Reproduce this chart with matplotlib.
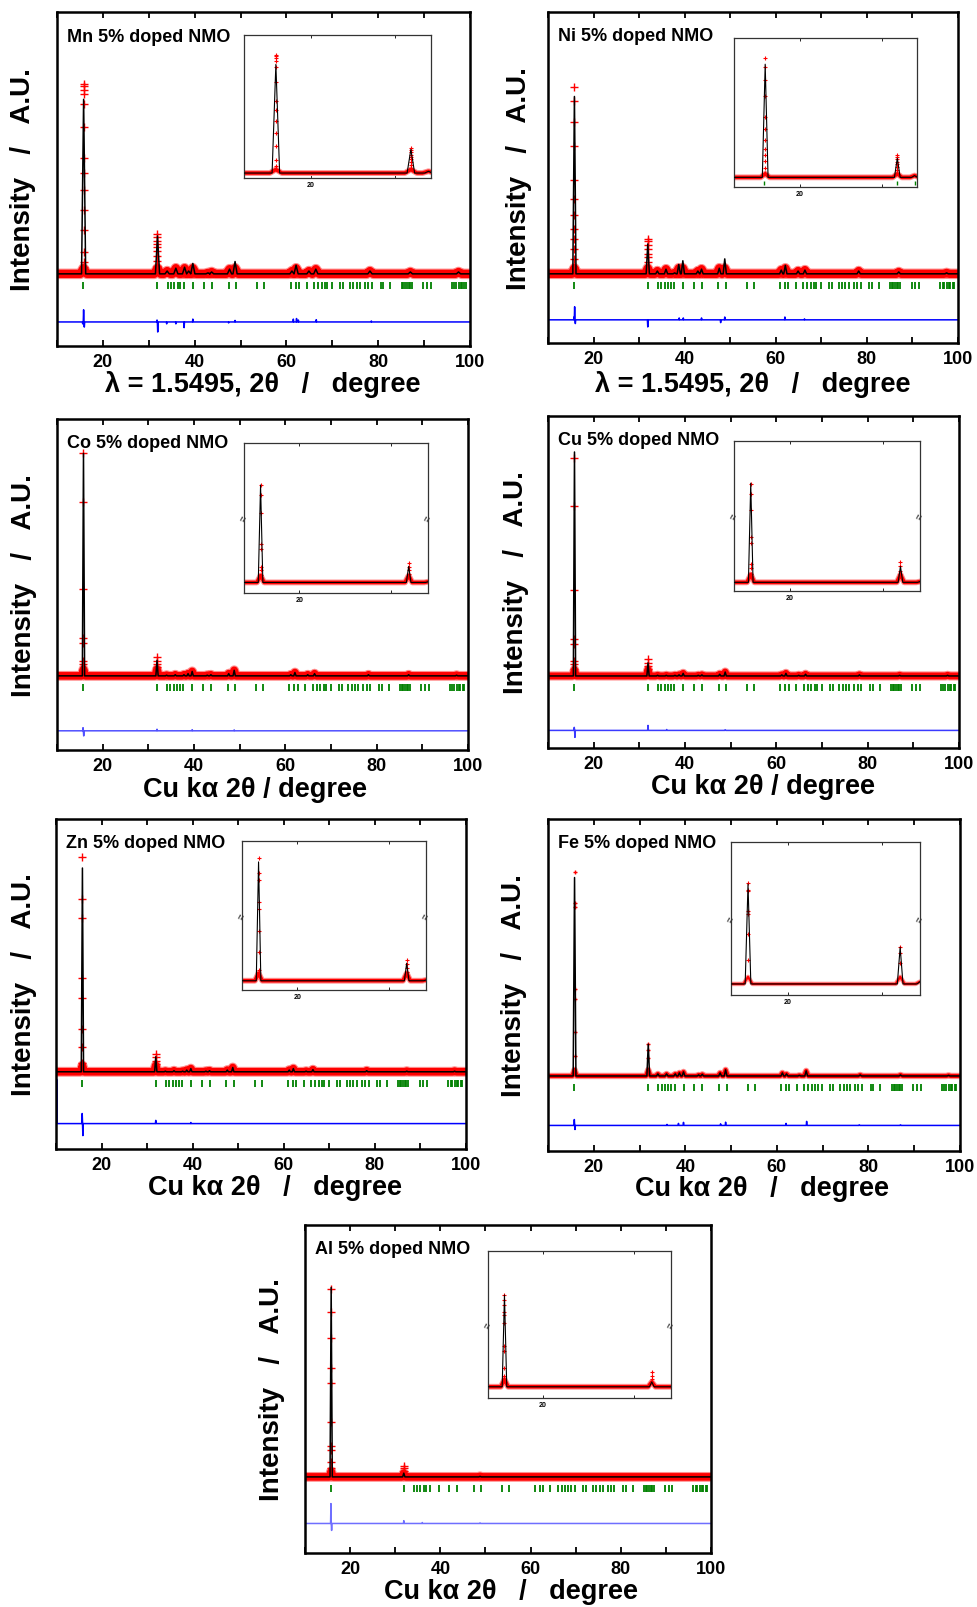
import numpy as np
import matplotlib
matplotlib.use('Agg')
import matplotlib.pyplot as plt
from matplotlib.ticker import MultipleLocator, FixedLocator

plt.rcParams['font.family'] = ['Liberation Sans', 'DejaVu Sans']
plt.rcParams['font.weight'] = 'bold'

W, H = 977, 1608

# 2theta of the fitted reflections (same lattice for every dopant)
peak_x = [15.8, 31.9, 34.0, 35.9, 37.8, 38.7, 39.6, 42.9, 43.7, 47.6, 48.8,
          61.2, 62.1, 64.9, 66.4, 78.2, 87.0, 97.5]

# allowed Bragg positions (green ticks)
bragg_x = [15.7, 31.9, 34.1, 34.8, 35.6, 36.3, 36.9, 37.7, 39.6, 42.0, 43.7,
           47.4, 49.0, 53.6, 55.2, 60.9, 62.0, 62.7, 64.4, 66.0, 66.9, 67.7,
           68.4, 68.9, 69.9, 71.7, 72.3, 73.8, 74.6, 75.3, 76.0, 77.1, 77.8,
           78.6, 80.5, 81.1, 82.6, 85.1, 85.5, 85.8, 86.2, 86.6, 86.9, 87.3,
           89.8, 90.6, 91.4, 96.1, 96.6, 96.9, 97.5, 98.0, 98.3, 98.8, 99.2]

# calculated peak heights (strongest observed point = 100)
mn_h = [92, 20, 1.5, 3, 3.5, 1.5, 5.5, 0.5, 1, 2.5, 6.5, 1.5, 4.5, 1.5, 2.5, 1.5, 1, 1]
ni_h = [95, 16, 1.5, 2.5, 0.5, 5, 7, 1.5, 2.5, 3, 8, 2, 4.5, 1.5, 2, 1.5, 1, 0.5]
co_h = [100, 7, 0.3, 0.5, 0.5, 1, 2, 0.3, 0.5, 1, 2.5, 0.5, 1.5, 0.5, 1, 0.5, 0.5, 0.3]
cu_h = [103, 6, 0.3, 0.3, 0.3, 0.5, 1.2, 0.3, 0.5, 0.8, 1.8, 0.5, 1.2, 0.3, 0.8, 0.5, 0.3, 0.3]
zn_h = [95, 7, 0.3, 0.5, 0.3, 0.8, 1.5, 0.3, 0.5, 0.8, 2, 0.8, 1.5, 0.3, 1, 0.5, 0.3, 0.3]
fe_h = [97.5, 15.6, 1, 1, 1, 1.5, 2, 0.5, 0.8, 1.5, 3, 1.5, 1, 0.3, 2.5, 0.5, 0.5, 0.3]
al_h = [101, 2, 0, 0, 0, 0, 0, 0, 0, 0, 0.3, 0, 0, 0, 0, 0, 0, 0]

# observed points on the two strongest reflections
mn_obs1 = [100, 98.8, 97, 94.8, 89.6, 77.3, 61.1, 53.2, 44.4, 33.8, 23.1, 11.4, 6.2, 3.5]
mn_obs2 = [21, 19.3, 17.5, 15.7, 13.9, 12.2, 9.5, 6.9, 4.2]
ni_obs1 = [100, 92.4, 81.4, 68.3, 50.4, 40.2, 31.7, 24.1, 18.8, 13.5, 8.2, 3.5]
ni_obs2 = [18.8, 17.4, 15.2, 13.1, 10.8, 9.0, 6.3]
co_obs1 = [100, 78, 39, 16.9, 14.6, 6.9, 5.3, 3.1]
co_obs2 = [8.3, 6.8, 5.3, 3.8]
cu_obs1 = [100, 78, 39.4, 17.2, 14.9, 6.9, 5.3, 3.3]
cu_obs2 = [7.6, 6.1, 4.5, 3.0]
zn_obs1 = [100, 80.5, 71.5, 43.5, 34.2, 19.8, 11.4, 4.3]
zn_obs2 = [8.2, 6.7, 5.1, 3.6]
fe_obs1 = [100, 85, 82.8, 42.6, 37.8, 21.4, 10]
fe_obs2 = [15.6, 13, 9]
al_obs1 = [100, 88.1, 74.3, 57.9, 50.3, 29.0, 16.6, 14.5, 7.7, 4.5]
al_obs2 = [5.9, 4.5, 3.0]

# difference curve (obs - calc) excursions
mn_diff_x = [15.6, 15.8, 15.95, 31.8, 31.95, 33.9, 35.9, 37.7, 39.6, 47.4, 48.8, 61.5, 62.2, 62.6, 66.5, 78.5]
mn_diff_y = [-1, 6.4, -2.7, 1, -5.3, -1, -1, -3, 1.5, -0.5, 0.8, 1.5, 1.8, 1, 1.2, 0.5]
ni_diff_x = [15.7, 15.85, 16.0, 31.9, 38.8, 39.7, 43.7, 47.9, 48.8, 62.0, 66.3]
ni_diff_y = [1.5, 7, -2, -3.8, 1, 1, 1, -1.5, 1.5, 1.5, 0.5]
co_diff_x = [15.7, 15.85, 31.9, 39.6, 48.8]
co_diff_y = [1.4, -2.3, 0.7, 0.5, 0.4]
cu_diff_x = [15.75, 15.9, 31.9, 36.0, 48.8]
cu_diff_y = [1.4, -3.2, 2.3, 0.4, 0.3]
zn_diff_x = [10.15, 15.75, 15.9, 31.9, 39.6]
zn_diff_y = [20.6, 4.7, -5.6, 1.5, 0.5]
fe_diff_x = [15.75, 15.9, 36.0, 38.5, 39.6, 47.7, 48.8, 62.0, 66.5, 78.0, 87.0]
fe_diff_y = [2.9, -2, 0.5, 1, 1.5, 0.8, 1.6, 1, 2, 0.3, 0.3]
al_diff_x = [15.75, 15.9, 31.9, 36.0, 48.8]
al_diff_y = [10.6, -3.7, 1.5, 0.5, 0.3]

labels = ['Mn 5% doped NMO', 'Ni 5% doped NMO', 'Co 5% doped NMO', 'Cu 5% doped NMO',
          'Zn 5% doped NMO', 'Fe 5% doped NMO', 'Al 5% doped NMO']
xlab_lambda = 'λ = 1.5495, 2θ   /   degree'
xlab_cu = 'Cu kα 2θ / degree'
xlab_cu_wide = 'Cu kα 2θ   /   degree'

# layout: pixel boxes of main axes / insets, baseline & top fractions, etc.
panels = [
    dict(h=mn_h, o1=mn_obs1, o2=mn_obs2, dx=mn_diff_x, dy=mn_diff_y, label=labels[0],
         xlab=xlab_lambda, box=(57, 13, 470, 347), ibox=(244, 36, 431, 179),
         base=0.216, top=0.784, dfrac=0.072, w=0.45, band=6.0, dcol='#0000ff',
         xlx=0.498, xly=-0.113, ixlim=(12, 34.3), iylim=(-4.2, 116.9), brk=None, k=1,
         itick=False, ylx=-0.082),
    dict(h=ni_h, o1=ni_obs1, o2=ni_obs2, dx=ni_diff_x, dy=ni_diff_y, label=labels[1],
         xlab=xlab_lambda, box=(548, 13, 958, 344), ibox=(734, 39, 917, 188),
         base=0.209, top=0.773, dfrac=0.070, w=0.35, band=6.0, dcol='#0000ff',
         xlx=0.499, xly=-0.122, ixlim=(12, 34.3), iylim=(-8.1, 117.0), brk=None, k=1,
         itick=True, ylx=-0.071),
    dict(h=co_h, o1=co_obs1, o2=co_obs2, dx=co_diff_x, dy=co_diff_y, label=labels[2],
         xlab=xlab_cu, box=(57, 420, 468, 751), ibox=(244, 444, 428, 594),
         base=0.224, top=0.896, dfrac=0.058, w=0.25, band=5.5, dcol='#5050ff',
         xlx=0.482, xly=-0.117, ixlim=(14, 34), iylim=(-4.6, 60.7), brk=28, k=0.2,
         itick=False, ylx=-0.080),
    dict(h=cu_h, o1=cu_obs1, o2=cu_obs2, dx=cu_diff_x, dy=cu_diff_y, label=labels[3],
         xlab=xlab_cu, box=(548, 417, 959, 749), ibox=(734, 442, 920, 592),
         base=0.217, top=0.872, dfrac=0.053, w=0.25, band=5.0, dcol='#3a3aff',
         xlx=0.523, xly=-0.114, ixlim=(14, 34), iylim=(-3.3, 53.8), brk=25.3, k=0.16,
         itick=False, ylx=-0.079),
    dict(h=zn_h, o1=zn_obs1, o2=zn_obs2, dx=zn_diff_x, dy=zn_diff_y, label=labels[4],
         xlab=xlab_cu_wide, box=(56, 820, 466, 1150), ibox=(242, 842, 426, 991),
         base=0.234, top=0.884, dfrac=0.077, w=0.25, band=5.5, dcol='#0000ff',
         xlx=0.533, xly=-0.114, ixlim=(14, 34), iylim=(-3.7, 55.8), brk=26.1, k=0.31,
         itick=False, ylx=-0.078),
    dict(h=fe_h, o1=fe_obs1, o2=fe_obs2, dx=fe_diff_x, dy=fe_diff_y, label=labels[5],
         xlab=xlab_cu_wide, box=(548, 820, 960, 1152), ibox=(731, 843, 920, 996),
         base=0.226, top=0.839, dfrac=0.077, w=0.3, band=3.0, dcol='#0000ff',
         xlx=0.519, xly=-0.111, ixlim=(14, 34), iylim=(-4.7, 60.3), brk=27.8, k=0.21,
         itick=False, ylx=-0.083),
    dict(h=al_h, o1=al_obs1, o2=al_obs2, dx=al_diff_x, dy=al_diff_y, label=labels[6],
         xlab=xlab_cu_wide, box=(305, 1226, 711, 1554), ibox=(488, 1252, 671, 1399),
         base=0.232, top=0.804, dfrac=0.090, w=0.25, band=5.5, dcol='#6f6fff',
         xlx=0.508, xly=-0.117, ixlim=(14, 34), iylim=(-4.6, 55.6), brk=25.5, k=0.16,
         itick=False, ylx=-0.081),
]


def px_rect(box):
    x0, y0, x1, y1 = box
    return [x0 / W, 1 - y1 / H, (x1 - x0) / W, (y1 - y0) / H]


def tri_line(xs, hs, w, x0=10.0, x1=100.0):
    # polyline through the baseline and each peak apex
    px, py = [x0], [0.0]
    for x, h in sorted(zip(xs, hs)):
        px += [x - w, x, x + w]
        py += [0.0, h, 0.0]
    px.append(x1)
    py.append(0.0)
    return np.array(px), np.array(py)


def squeeze(y, brk, k):
    # broken y axis of the insets: compress everything above brk
    y = np.asarray(y, float)
    if brk is None:
        return y
    return np.where(y > brk, brk + (y - brk) * k, y)


def draw_pattern(ax, p, band, ms, mew, lw, brk=None, k=1.0):
    h = np.array(p['h'], float)
    cx, cy = tri_line(peak_x, h, p['w'])
    bx, by = tri_line(peak_x, np.minimum(h, 3.0), p['w'] * 1.6)
    ax.plot(bx, squeeze(by, brk, k), color='#ff9090', lw=band + 1.6, zorder=2)
    ax.plot(bx, squeeze(by, brk, k), color='#ff0000', lw=band, zorder=2)
    ax.plot(np.full(len(p['o1']), peak_x[0]), squeeze(p['o1'], brk, k), '+',
            color='#ff0000', ms=ms, mew=mew, zorder=3)
    ax.plot(np.full(len(p['o2']), peak_x[1]), squeeze(p['o2'], brk, k), '+',
            color='#ff0000', ms=ms, mew=mew, zorder=3)
    ax.plot(cx, squeeze(cy, brk, k), color='black', lw=lw, zorder=4)


fig = plt.figure(figsize=(W / 100, H / 100), dpi=100)
fig.patch.set_facecolor('white')

for p in panels:
    ax = fig.add_axes(px_rect(p['box']))
    base, top = p['base'], p['top']
    span = 100.0 / (top - base)
    ax.set_xlim(10, 100)
    ax.set_ylim(-base * span, (1 - base) * span)

    draw_pattern(ax, p, p['band'], 6 if p['band'] > 4 else 3, 1.0, 1.1)

    tick_c = -0.035 * span
    ax.vlines(bragg_x, tick_c - 0.0105 * span, tick_c + 0.0105 * span,
              color='#008000', lw=1.3, zorder=2)

    dx, dy = tri_line(p['dx'], p['dy'], 0.08)
    ax.plot(dx, dy + (p['dfrac'] - base) * span, color=p['dcol'], lw=1.1, zorder=2)

    ax.set_yticks([])
    ax.xaxis.set_major_locator(MultipleLocator(20))
    ax.xaxis.set_minor_locator(MultipleLocator(10))
    ax.tick_params(axis='x', which='both', direction='in', top=True, length=4,
                   width=1.3, labelsize=13, pad=5)
    for s in ax.spines.values():
        s.set_linewidth(1.8)

    ax.text(0.024, 0.928, p['label'], transform=ax.transAxes, fontsize=13,
            fontweight='bold', ha='left', va='center')
    ax.text(p['ylx'], 0.5, 'Intensity   /   A.U.', transform=ax.transAxes,
            rotation=90, fontsize=20, fontweight='bold', ha='center', va='center')
    ax.text(p['xlx'], p['xly'], p['xlab'], transform=ax.transAxes, fontsize=19.5,
            fontweight='bold', ha='center', va='center')

    # zoom on the two strongest reflections
    ins = fig.add_axes(px_rect(p['ibox']))
    ins.set_xlim(*p['ixlim'])
    ins.set_ylim(*p['iylim'])
    draw_pattern(ins, p, 2.6 if p['band'] > 4 else 1.6, 3.5, 0.8, 0.8,
                 brk=p['brk'], k=p['k'])
    if p['itick']:
        ispan = p['iylim'][1] - p['iylim'][0]
        ins.vlines([b for b in bragg_x if p['ixlim'][0] < b < p['ixlim'][1]],
                   p['iylim'][0] + 0.015 * ispan, p['iylim'][0] + 0.04 * ispan,
                   color='#008000', lw=1.0)
    ins.set_yticks([])
    ins.xaxis.set_major_locator(FixedLocator([20]))
    ins.xaxis.set_minor_locator(FixedLocator([30]))
    ins.tick_params(axis='x', which='both', direction='in', top=True, length=2,
                    width=0.6, labelsize=5, pad=2)
    for s in ins.spines.values():
        s.set_linewidth(0.9)
        s.set_color('#333333')
    if p['brk'] is not None:
        for xs in (0.0, 1.0):
            ins.text(xs, 0.5, '≈', transform=ins.transAxes, fontsize=7,
                     rotation=70, ha='center', va='center', color='#333333')

fig.savefig('out.png', dpi=100)
